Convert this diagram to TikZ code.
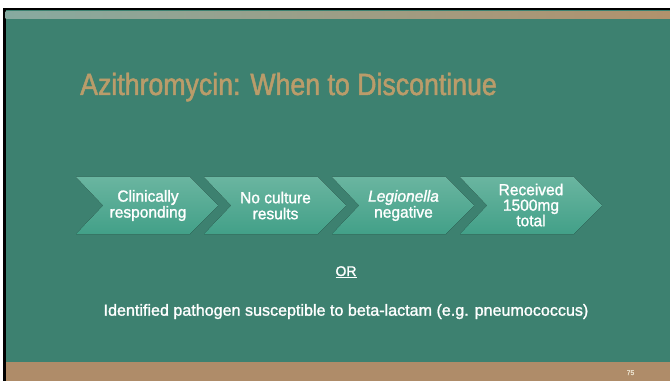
\documentclass[tikz,border=0pt]{standalone}
\usepackage{fontspec}
\setmainfont{Liberation Sans}
\newfontfamily\titlefont[FakeStretch=0.87,FakeBold=1.6]{Liberation Sans}
\newfontfamily\bodyfont[FakeStretch=0.97,FakeBold=1.4]{Liberation Sans}
\newfontfamily\altfont[FakeStretch=1.0,FakeBold=1.4]{Liberation Sans}
\definecolor{slidegreen}{RGB}{61,129,112}
\definecolor{titletan}{RGB}{186,156,106}
\definecolor{bartan}{RGB}{175,140,105}
\definecolor{stripleft}{RGB}{135,170,160}
\definecolor{stripright}{RGB}{178,146,108}
\definecolor{chevtop}{RGB}{106,181,160}
\definecolor{chevbot}{RGB}{66,160,136}
\definecolor{pagenum}{RGB}{235,225,205}
\tikzset{
  chevshape/.style={top color=chevtop, bottom color=chevbot, draw=none},
  chevtext/.style={text=white, align=center, inner sep=0pt, font=\bodyfont\fontsize{16pt}{16pt}\selectfont},
}
\begin{document}
\begin{tikzpicture}[x=1pt,y=1pt]
\useasboundingbox (0,0) rectangle (670,381);
\fill[white] (0,0) rectangle (670,381);
\fill[black] (3,0) rectangle (670,373);
\fill[slidegreen] (5.5,0) rectangle (670,371);
\shade[left color=stripleft, right color=stripright] (5.5,362) rectangle (670,369);
\fill[bartan] (5.5,0) rectangle (670,19);
% title
\node[anchor=base west, inner sep=0pt, text=titletan, font=\titlefont\fontsize{30.7pt}{32pt}\selectfont] (title) at (80,286) {Azithromycin: When to Discontinue};
% chevrons
\foreach \L in {76,204,332,460} {
  \fill[chevshape] (\L,204) -- (\L+114,204) -- (\L+142,175.5) -- (\L+114,147) -- (\L,147) -- (\L+27,175.5) -- cycle;
}
\node[chevtext] (c1) at (148,175.5) {Clinically\\responding};
\node[chevtext] (c2) at (275.5,175.5) {No culture\\results};
\node[chevtext] (c3) at (403.5,175.5) {\textit{Legionella}\\negative};
\node[chevtext, font=\bodyfont\fontsize{16pt}{15.5pt}\selectfont] (c4) at (531,176) {Received\\1500mg\\total};
% OR and condition
\node[anchor=base, inner sep=0pt, text=white, font=\altfont\fontsize{14pt}{16pt}\selectfont] (or) at (346,105) {\underline{OR}};
\node[anchor=base, inner sep=0pt, text=white, font=\altfont\fontsize{16.1pt}{17pt}\selectfont] (alt) at (346,65.3) {Identified pathogen susceptible to beta-lactam (e.g. pneumococcus)};
\node[anchor=base, inner sep=0pt, text=pagenum, font=\bodyfont\fontsize{7pt}{8pt}\selectfont] (num) at (630.5,6) {75};
\end{tikzpicture}
\end{document}
